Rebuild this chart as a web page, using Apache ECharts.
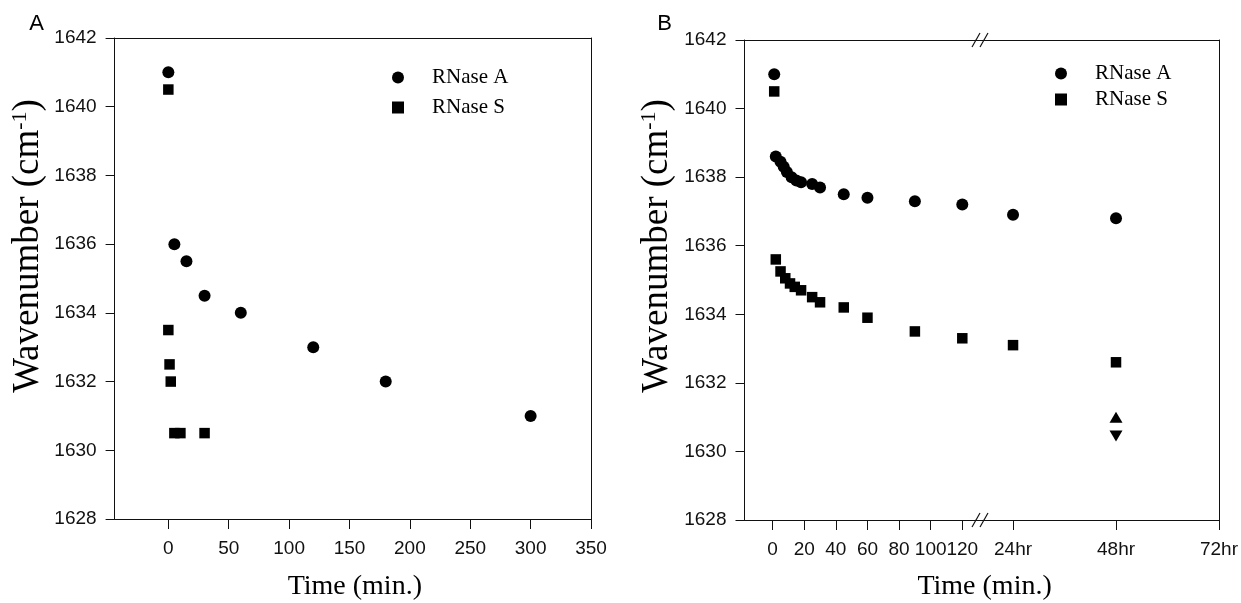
<!DOCTYPE html>
<html>
<head>
<meta charset="utf-8">
<title>RNase A / RNase S wavenumber vs time</title>
<script src="https://cdn.jsdelivr.net/npm/echarts@6/dist/echarts.min.js"></script>
<style>
  html, body { margin: 0; padding: 0; background: #fff; }
  #main { width: 1241px; height: 603px; }
</style>
</head>
<body>
<div id="main"></div>
<script>
// panel A, time in minutes
var aTimeA = [0, 5, 15, 30, 60, 120, 180, 300];
var aWaveA = [1641, 1636, 1635.5, 1634.5, 1634, 1633, 1632, 1631];
var aTimeS = [0, 0, 1, 2, 5, 10, 30];
var aWaveS = [1640.5, 1633.5, 1632.5, 1632, 1630.5, 1630.5, 1630.5];
var aTicks = [0, 50, 100, 150, 200, 250, 300, 350];

// panel B, minutes up to 120 then hours after the break
var bMinA = [1, 2, 5, 7, 9, 12, 15, 18, 25, 30, 45, 60, 90, 120];
var bWaveA = [1641, 1638.6, 1638.45, 1638.3, 1638.15, 1638, 1637.9, 1637.85, 1637.8, 1637.7, 1637.5, 1637.4, 1637.3, 1637.2];
var bMinS = [1, 2, 5, 8, 11, 14, 18, 25, 30, 45, 60, 90, 120];
var bWaveS = [1640.5, 1635.6, 1635.25, 1635.05, 1634.9, 1634.8, 1634.7, 1634.5, 1634.35, 1634.2, 1633.9, 1633.5, 1633.3];
var bHr = [24, 48];
var bHrWaveA = [1636.9, 1636.8];
var bHrWaveS = [1633.1, 1632.6];
var bHrUp = [48];
var bWaveUp = [1631];
var bHrDown = [48];
var bWaveDown = [1630.45];
var bMinTicks = [0, 20, 40, 60, 80, 100, 120];
var bHrTicks = [24, 48, 72];

function pairs(xs, ys) {
    return xs.map(function (x, i) { return [x, ys[i]]; });
}

var sans = '"Liberation Sans", Arial, sans-serif';
var serif = '"Liberation Serif", "Times New Roman", serif';
var ink = '#111';

// bottom axis with ticks + labels
function bottomAxis(grid, min, max, ticks, fmt) {
    return {
        type: 'value', gridIndex: grid, position: 'bottom', min: min, max: max,
        axisLine: { lineStyle: { color: ink, width: 1 } },
        axisTick: { show: true, length: 10, customValues: ticks, lineStyle: { color: ink } },
        axisLabel: { customValues: ticks, margin: 20, fontFamily: sans, fontSize: 19, color: ink,
            formatter: fmt || '{value}' },
        splitLine: { show: false }
    };
}
// frame line only
function plainAxis(grid, pos, min, max) {
    return {
        type: 'value', gridIndex: grid, position: pos, min: min, max: max,
        axisLine: { onZero: false, lineStyle: { color: ink, width: 1 } },
        axisTick: { show: false }, axisLabel: { show: false }, splitLine: { show: false }
    };
}
function leftAxis(grid) {
    return {
        type: 'value', gridIndex: grid, position: 'left', min: 1628, max: 1642, interval: 2,
        axisLine: { onZero: false, lineStyle: { color: ink, width: 1 } },
        axisTick: { show: true, length: 9, lineStyle: { color: ink } },
        axisLabel: { margin: 18, fontFamily: sans, fontSize: 19, color: ink,
            formatter: function (v) { return String(v); } },
        splitLine: { show: false }
    };
}

function scatter(name, x, y, data, symbol, size, rotate) {
    return {
        name: name, type: 'scatter', xAxisIndex: x, yAxisIndex: y, data: data,
        symbol: symbol, symbolSize: size, symbolRotate: rotate || 0,
        itemStyle: { color: '#000', opacity: 1 },
        emphasis: { disabled: true }
    };
}

function breakMark(x, y) {
    return [
        { type: 'line', shape: { x1: x - 11, y1: y + 7, x2: x - 3, y2: y - 7 }, style: { stroke: ink, lineWidth: 1.2 } },
        { type: 'line', shape: { x1: x - 3, y1: y + 7, x2: x + 5, y2: y - 7 }, style: { stroke: ink, lineWidth: 1.2 } }
    ];
}

function legendAt(left, top, gap) {
    return {
        data: ['RNase A', 'RNase S'], orient: 'vertical', left: left, top: top,
        itemWidth: 12, itemHeight: 12, itemGap: gap, selectedMode: false,
        itemStyle: { opacity: 1, color: '#000' },
        textStyle: { fontFamily: serif, fontSize: 21, color: '#000', padding: [0, 0, 0, 23] }
    };
}

var myChart = echarts.init(document.getElementById('main'));
var option = {
    backgroundColor: '#fff',
    animation: false,
    grid: [
        { left: 114.6, top: 38, width: 476.4, height: 481 },
        { left: 744.5, top: 40, width: 238.5, height: 480 },
        { left: 983, top: 40, width: 238, height: 480 }
    ],
    xAxis: [
        bottomAxis(0, -44.5, 350, aTicks),
        plainAxis(0, 'top', -44.5, 350),
        bottomAxis(1, -17.8, 133.1, bMinTicks),
        plainAxis(1, 'top', -17.8, 133.1),
        bottomAxis(2, 17, 72, bHrTicks, '{value}hr'),
        plainAxis(2, 'top', 17, 72)
    ],
    yAxis: [
        leftAxis(0),
        plainAxis(0, 'right', 1628, 1642),
        leftAxis(1),
        plainAxis(2, 'right', 1628, 1642)
    ],
    legend: [legendAt(387, 62, 9), legendAt(1050, 58, 5)],
    series: [
        scatter('RNase A', 0, 0, pairs(aTimeA, aWaveA), 'circle', 12),
        scatter('RNase S', 0, 0, pairs(aTimeS, aWaveS), 'rect', 10.5),
        scatter('RNase A', 2, 2, pairs(bMinA, bWaveA), 'circle', 12),
        scatter('RNase S', 2, 2, pairs(bMinS, bWaveS), 'rect', 10.5),
        scatter('RNase A', 4, 3, pairs(bHr, bHrWaveA), 'circle', 12),
        scatter('RNase S', 4, 3, pairs(bHr, bHrWaveS), 'rect', 10.5),
        scatter('up', 4, 3, pairs(bHrUp, bWaveUp), 'triangle', [13, 11]),
        scatter('down', 4, 3, pairs(bHrDown, bWaveDown), 'triangle', [13, 11], 180)
    ],
    graphic: [
        { type: 'text', x: 36.6, y: 24, style: { text: 'A', font: '22px ' + sans, fill: '#000', align: 'center', verticalAlign: 'middle' } },
        { type: 'text', x: 664.5, y: 24, style: { text: 'B', font: '22px ' + sans, fill: '#000', align: 'center', verticalAlign: 'middle' } },
        { type: 'text', x: 354.8, y: 587, style: { text: 'Time (min.)', font: '28px ' + serif, fill: '#000', align: 'center', verticalAlign: 'middle' } },
        { type: 'text', x: 984.6, y: 587, style: { text: 'Time (min.)', font: '28px ' + serif, fill: '#000', align: 'center', verticalAlign: 'middle' } },
        { type: 'text', x: 28, y: 246, rotation: Math.PI / 2,
          style: { text: 'Wavenumber (cm{sup|-1})', font: '37px ' + serif, fill: '#000', align: 'center', verticalAlign: 'middle',
                   rich: { sup: { fontSize: 22, fontFamily: serif, verticalAlign: 'top' } } } },
        { type: 'text', x: 657, y: 246, rotation: Math.PI / 2,
          style: { text: 'Wavenumber (cm{sup|-1})', font: '37px ' + serif, fill: '#000', align: 'center', verticalAlign: 'middle',
                   rich: { sup: { fontSize: 22, fontFamily: serif, verticalAlign: 'top' } } } }
    ].concat(breakMark(983, 40), breakMark(983, 520))
};
myChart.setOption(option);
</script>
</body>
</html>
